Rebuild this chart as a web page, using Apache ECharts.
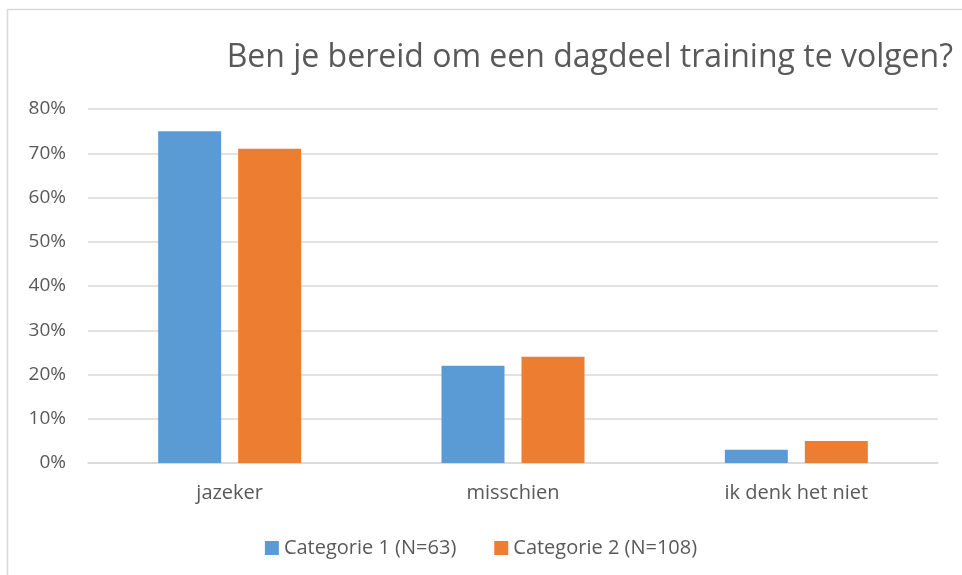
<!DOCTYPE html>
<html>
<head>
<meta charset="utf-8">
<script src="https://cdn.jsdelivr.net/npm/echarts@6/dist/echarts.min.js"></script>
<style>
  html, body { margin: 0; padding: 0; background: #fff; }
  #main { width: 962px; height: 575px; }
</style>
</head>
<body>
<div id="main"></div>
<script>
var categories = ['jazeker', 'misschien', 'ik denk het niet'];
var cat1 = [75, 22, 3];
var cat2 = [71, 24, 5];
var seriesNames = ['Categorie 1 (N=63)', 'Categorie 2 (N=108)'];
var chartTitle = 'Ben je bereid om een dagdeel training te volgen?';

var chart = echarts.init(document.getElementById('main'));
var font = '"Open Sans", "Noto Sans", sans-serif';
var textColor = '#595959';

var option = {
  backgroundColor: '#fff',
  color: ['#5b9bd5', '#ed7d31'],
  animation: false,
  graphic: [{
    type: 'rect',
    shape: { x: 7.5, y: 9.5, width: 980, height: 600 },
    style: { fill: 'none', stroke: '#d9d9d9', lineWidth: 1.5 },
    silent: true
  }],
  title: {
    text: chartTitle,
    right: 4,
    top: 37,
    textStyle: {
      fontFamily: font,
      fontSize: 32,
      fontWeight: 'normal',
      color: textColor
    }
  },
  legend: {
    bottom: 12,
    left: 'center',
    itemWidth: 14,
    itemHeight: 14,
    itemGap: 38,
    icon: 'rect',
    textStyle: { fontFamily: font, fontSize: 20, color: textColor },
    data: seriesNames
  },
  grid: {
    left: 88,
    right: 24,
    top: 109,
    bottom: 112,
    containLabel: false
  },
  xAxis: {
    type: 'category',
    data: categories,
    axisLine: { lineStyle: { color: '#d9d9d9', width: 1.5 } },
    axisTick: { show: false },
    axisLabel: {
      fontFamily: font,
      fontSize: 20,
      color: textColor,
      margin: 20
    }
  },
  yAxis: {
    type: 'value',
    min: 0,
    max: 80,
    interval: 10,
    axisLine: { show: false },
    axisTick: { show: false },
    splitLine: { lineStyle: { color: '#d9d9d9', width: 1.5 } },
    axisLabel: {
      fontFamily: font,
      fontSize: 19,
      color: textColor,
      margin: 22,
      formatter: '{value}%'
    }
  },
  series: [{
    name: seriesNames[0],
    type: 'bar',
    data: cat1,
    barWidth: 63,
    barGap: '27%'
  }, {
    name: seriesNames[1],
    type: 'bar',
    data: cat2,
    barWidth: 63
  }]
};

chart.setOption(option);
</script>
</body>
</html>
